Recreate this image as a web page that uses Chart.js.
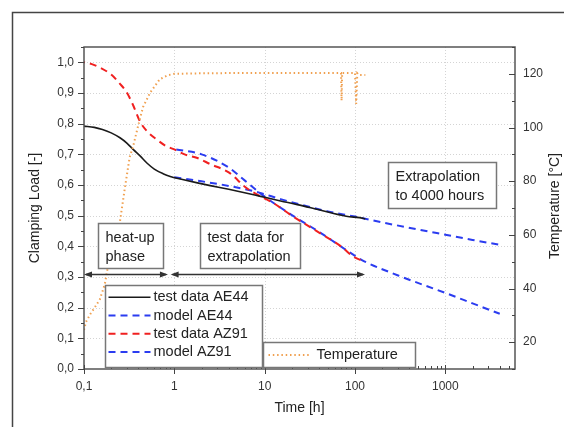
<!DOCTYPE html>
<html><head><meta charset="utf-8">
<script src="https://cdn.jsdelivr.net/npm/chart.js@4/dist/chart.umd.min.js"></script>
<style>html,body{margin:0;padding:0;background:#fff;overflow:hidden}#wrap{width:564px;height:427px;position:relative}</style>
</head><body><div id="wrap"><canvas id="c" width="564" height="427"></canvas></div>
<script>
// ---- data ----
const timeTestAE44 = [0.1,0.13,0.16,0.2,0.25,0.3,0.35,0.42,0.5,0.6,0.75,0.9,1.2,1.8,2.5,4,6,9,15,23,40,80,125,130];
const loadTestAE44 = [0.792,0.788,0.781,0.770,0.754,0.736,0.716,0.694,0.671,0.652,0.637,0.628,0.619,0.607,0.598,0.586,0.575,0.563,0.548,0.536,0.519,0.498,0.491,0.489];
const timeModelAE44 = [1,2,4,8,15,25,50,100,200,500,1000,2000,4000];
const loadModelAE44 = [0.625,0.612,0.597,0.578,0.554,0.536,0.514,0.497,0.478,0.455,0.438,0.421,0.405];
const timeTestAZ91 = [0.1,0.12,0.15,0.2,0.25,0.3,0.35,0.42,0.5,0.64,0.8,1,1.3,1.8,2.5,4,6.3,9,12.5,20,40,70,95,125];
const loadTestAZ91 = [1.0,0.995,0.983,0.96,0.93,0.90,0.86,0.805,0.775,0.748,0.728,0.716,0.70,0.688,0.668,0.641,0.59,0.563,0.541,0.500,0.445,0.40,0.367,0.351];
const timeModelAZ91 = [1.05,2,4,6,10,20,40,100,125,300,1000,2000,4000];
const loadModelAZ91 = [0.716,0.70,0.657,0.615,0.562,0.502,0.447,0.369,0.352,0.305,0.248,0.214,0.18];
const timeTemp = [0.1,0.105,0.117,0.132,0.15,0.17,0.18,0.22,0.25,0.284,0.32,0.35,0.4,0.45,0.54,0.69,0.85,1,2,5,10,20,40,70,71,72,100,103,106,110,130];
const tempC = [24.5,27.5,30.4,33,36,41.6,46.5,57,65,77.7,88.9,93,101,107.6,113,118,119.5,120,120.2,120.3,120.3,120.3,120.3,120.3,110,120.3,120.3,108.8,120.2,119.6,119.6];

const xMajorTicks = [0.1,1,10,100,1000];
const loadTicks = [0,0.1,0.2,0.3,0.4,0.5,0.6,0.7,0.8,0.9,1.0];
const tempTicks = [20,40,60,80,100,120];
const seriesNames = ['test data AE44','model AE44','test data AZ91','model AZ91','Temperature'];
const annTexts = [['heat-up','phase'],['test data for','extrapolation'],['Extrapolation','to 4000 hours']];

const FONT = "'Liberation Sans', Arial, sans-serif";
const toPts = (xs, ys) => xs.map((x,i)=>({x, y: ys[i]}));

const styles = [
  {borderColor:'#1a1a1a', borderWidth:1.6, borderDash:[]},
  {borderColor:'#2b3cf0', borderWidth:2, borderDash:[7,5], borderDashOffset:0},
  {borderColor:'#f02020', borderWidth:2, borderDash:[7,5], borderDashOffset:6},
  {borderColor:'#2b3cf0', borderWidth:2, borderDash:[7,5], borderDashOffset:0},
  {borderColor:'#f0a050', borderWidth:2, borderDash:[1.5,2.8]}
];

function ds(i, xs, ys, axis, tension) {
  return Object.assign({
    label: seriesNames[i], data: toPts(xs, ys), yAxisID: axis,
    pointRadius: 0, fill: false, tension: 0,
    cubicInterpolationMode: tension ? 'monotone' : 'default'
  }, styles[i]);
}

const overlay = {
  id: 'overlay',
  beforeDatasetsDraw(chart) {
    const {ctx, chartArea:a, scales:{x, y}} = chart;
    ctx.save();
    ctx.strokeStyle = '#d4d4d4'; ctx.lineWidth = 1; ctx.setLineDash([1,2]);
    loadTicks.forEach(v => { if (v<=0) return; const p = Math.round(y.getPixelForValue(v))+0.5;
      ctx.beginPath(); ctx.moveTo(a.left,p); ctx.lineTo(a.right,p); ctx.stroke(); });
    xMajorTicks.forEach(v => { const p = Math.round(x.getPixelForValue(v))+0.5; if (p<=a.left+1) return;
      ctx.beginPath(); ctx.moveTo(p,a.top); ctx.lineTo(p,a.bottom); ctx.stroke(); });
    ctx.restore();
  },
  afterDatasetsDraw(chart) {
    const {ctx, chartArea:a, scales:{x, y, y1}} = chart;
    const X = t => x.getPixelForValue(t), Y = v => y.getPixelForValue(v);
    ctx.save();
    // outer frame
    ctx.strokeStyle = '#444'; ctx.lineWidth = 1.5; ctx.setLineDash([]);
    ctx.beginPath(); ctx.moveTo(12.5, 427); ctx.lineTo(12.5, 12.5); ctx.lineTo(564, 12.5); ctx.stroke();
    // plot frame
    ctx.strokeStyle = '#555'; ctx.lineWidth = 1.5;
    ctx.strokeRect(a.left, a.top, a.right-a.left, a.bottom-a.top);
    // tick marks
    ctx.lineWidth = 1; ctx.strokeStyle = '#444';
    const ln = (x1,y1_,x2,y2)=>{ctx.beginPath();ctx.moveTo(x1,y1_);ctx.lineTo(x2,y2);ctx.stroke();};
    for (let k=0;k<=21;k++){ const v=k*0.05; const p=Math.round(Y(v))+0.5; const major = k%2===0;
      ln(a.left-(major?6:3), p, a.left, p); }
    for (let v=10; v<=130; v+=10){ const p=Math.round(y1.getPixelForValue(v))+0.5; const major = (v%20===0);
      ln(a.right-(major?6:3), p, a.right, p); }
    for (let e=-1; e<=3; e++){ for (let m=1;m<=9;m++){ const t=m*Math.pow(10,e); if (t>x.max) break;
      const p=Math.round(X(t))+0.5; if (m===1) ln(p, a.bottom-4, p, a.bottom+5); else ln(p, a.bottom-3, p, a.bottom); } }
    // arrows
    const arrows = [[0.1,0.85,0.31],[0.91,129,0.31]];
    ctx.strokeStyle = '#333'; ctx.fillStyle = '#333'; ctx.lineWidth = 1.3;
    arrows.forEach(([t0,t1,l])=>{ const x0=X(t0), x1=X(t1), p=Math.round(Y(l))+0.5;
      ln(x0+2,p,x1-2,p);
      [[x0,1],[x1,-1]].forEach(([xx,d])=>{ ctx.beginPath(); ctx.moveTo(xx,p); ctx.lineTo(xx+d*8,p-3); ctx.lineTo(xx+d*8,p+3); ctx.closePath(); ctx.fill(); });
    });
    // annotation boxes
    const boxes = [[0.144,0.74,0.476,0.329],[1.93,24.6,0.476,0.329],[234,3660,0.674,0.525]];
    ctx.font = '14.5px ' + FONT; ctx.textBaseline = 'middle'; ctx.textAlign = 'left';
    boxes.forEach(([t0,t1,l0,l1],i)=>{ const x0=Math.round(X(t0))+0.5, x1=Math.round(X(t1))+0.5, y0=Math.round(Y(l0))+0.5, yb=Math.round(Y(l1))+0.5;
      ctx.fillStyle='#fff'; ctx.fillRect(x0,y0,x1-x0,yb-y0);
      ctx.strokeStyle='#777'; ctx.lineWidth=1.5; ctx.strokeRect(x0,y0,x1-x0,yb-y0);
      ctx.fillStyle='#222'; ctx.fillText(annTexts[i][0], x0+7, y0+14); ctx.fillText(annTexts[i][1], x0+7, y0+33);
    });
    // legends
    const sample = (i,xa,xb,yy)=>{ const s=styles[i]; ctx.save(); ctx.strokeStyle=s.borderColor; ctx.lineWidth=s.borderWidth; ctx.setLineDash(s.borderDash); ctx.lineDashOffset=0; ln(xa,yy,xb,yy); ctx.restore(); };
    const lg1 = [0.171,9.27,0.2745,0.0075];
    let x0=Math.round(X(lg1[0]))+0.5, x1=Math.round(X(lg1[1]))+0.5, y0=Math.round(Y(lg1[2]))+0.5, yb=Math.round(Y(lg1[3]))+0.5;
    ctx.fillStyle='#fff'; ctx.fillRect(x0,y0,x1-x0,yb-y0);
    ctx.strokeStyle='#777'; ctx.lineWidth=1.5; ctx.strokeRect(x0,y0,x1-x0,yb-y0);
    for (let i=0;i<4;i++){ const yy = y0+11.7+i*18.3; sample(i, x0+3, x0+45, yy); ctx.fillStyle='#222'; ctx.fillText(seriesNames[i], x0+48, yy); }
    const lg2 = [9.6,461,0.0895,0.0075];
    x0=Math.round(X(lg2[0]))+0.5; x1=Math.round(X(lg2[1]))+0.5; y0=Math.round(Y(lg2[2]))+0.5; yb=Math.round(Y(lg2[3]))+0.5;
    ctx.fillStyle='#fff'; ctx.fillRect(x0,y0,x1-x0,yb-y0);
    ctx.strokeStyle='#777'; ctx.lineWidth=1.5; ctx.strokeRect(x0,y0,x1-x0,yb-y0);
    sample(4, x0+5, x0+47, (y0+yb)/2); ctx.fillStyle='#222'; ctx.fillText(seriesNames[4], x0+53, (y0+yb)/2);
    // axis titles
    ctx.fillStyle='#222'; ctx.font = '14px ' + FONT; ctx.textAlign='center'; ctx.textBaseline='middle';
    ctx.fillText('Time [h]', (a.left+a.right)/2 + 0, 408);
    ctx.save(); ctx.translate(35, (a.top+a.bottom)/2); ctx.rotate(-Math.PI/2); ctx.fillText('Clamping Load [-]', 0, 0); ctx.restore();
    ctx.save(); ctx.translate(555, (a.top+a.bottom)/2 - 2); ctx.rotate(-Math.PI/2); ctx.fillText('Temperature [°C]', 0, 0); ctx.restore();
    ctx.restore();
  }
};

const tickFont = {family: FONT, size: 12};
new Chart(document.getElementById('c'), {
  type: 'line',
  data: { datasets: [
    ds(4, timeTemp, tempC, 'y1', false),
    ds(0, timeTestAE44, loadTestAE44, 'y', true),
    ds(2, timeTestAZ91, loadTestAZ91, 'y', true),
    ds(1, timeModelAE44, loadModelAE44, 'y', true),
    ds(3, timeModelAZ91, loadModelAZ91, 'y', true)
  ]},
  options: {
    responsive: false, animation: false, devicePixelRatio: 1,
    layout: {padding: {top: 47, left: 0, right: 0, bottom: 0}},
    plugins: {legend: {display: false}, tooltip: {enabled: false}},
    elements: {line: {borderCapStyle: 'butt'}},
    scales: {
      x: { type: 'logarithmic', position: 'bottom', min: 0.1, max: 5900, bounds: 'data',
        afterBuildTicks: s => { s.ticks = xMajorTicks.map(v => ({value: v})); },
        afterFit: s => { s.height = 58; },
        grid: {display: false, drawTicks: false}, border: {display: false},
        ticks: {autoSkip: false, maxRotation: 0, padding: 10, color: '#333', font: tickFont,
          callback: v => String(v).replace('.', ',')}},
      y: { type: 'linear', position: 'left', min: 0, max: 1.05, bounds: 'data',
        afterBuildTicks: s => { s.ticks = loadTicks.map(v => ({value: v})); },
        afterFit: s => { s.width = 84; },
        grid: {display: false, drawTicks: false}, border: {display: false},
        ticks: {padding: 10, color: '#333', font: tickFont, callback: v => Number(v).toFixed(1).replace('.', ',')}},
      y1: { type: 'linear', position: 'right', min: 10, max: 130, bounds: 'data',
        afterBuildTicks: s => { s.ticks = tempTicks.map(v => ({value: v})); },
        afterFit: s => { s.width = 49; },
        grid: {display: false, drawTicks: false}, border: {display: false},
        ticks: {padding: 8, color: '#333', font: tickFont, callback: v => String(v)}}
    }
  },
  plugins: [overlay]
});
</script></body></html>
